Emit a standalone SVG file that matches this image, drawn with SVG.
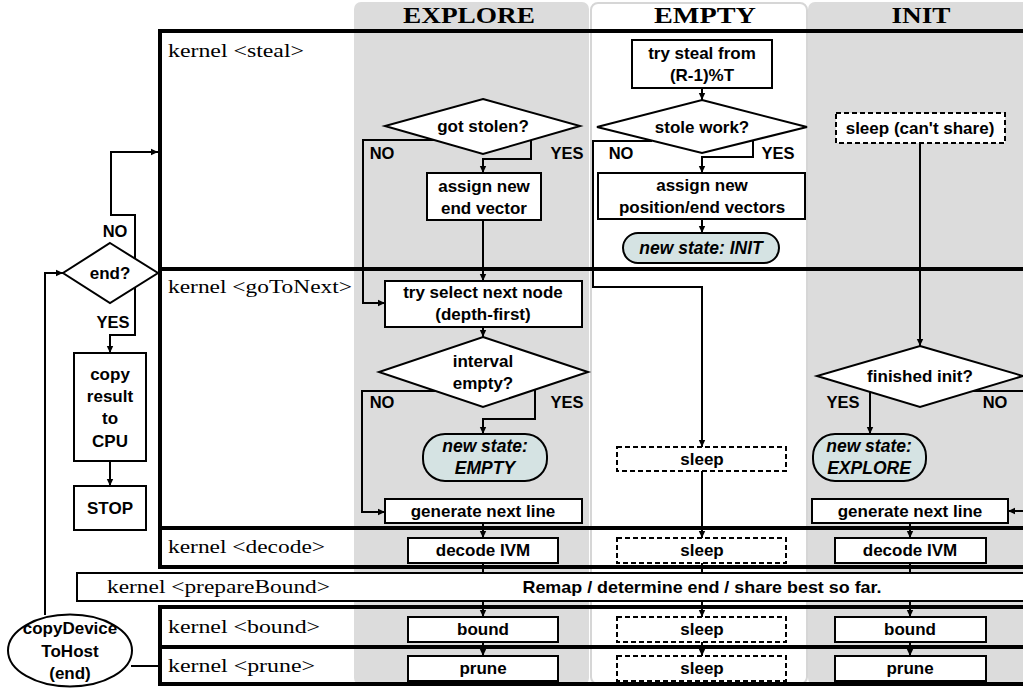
<svg xmlns="http://www.w3.org/2000/svg" width="1023" height="689" viewBox="0 0 1023 689">
<style>
.col{fill:#dcdcdc}
.colw{fill:#ffffff;stroke:#d6d6d6;stroke-width:2}
.hdr{font-family:"Liberation Serif",serif;font-weight:bold;font-size:24px;text-anchor:middle;fill:#000}
.kf{fill:none;stroke:#000;stroke-width:4}
.kl{font-family:"Liberation Serif",serif;font-size:18px;fill:#000}
.box{fill:#fff;stroke:#000;stroke-width:2}
.dash{fill:#fff;stroke:#000;stroke-width:2;stroke-dasharray:5,3}
.pill{fill:#d5e3e3;stroke:#000;stroke-width:2}
.t{font-family:"Liberation Sans",Arial,sans-serif;font-weight:bold;font-size:17px;text-anchor:middle;fill:#000}
.ti{font-family:"Liberation Sans",Arial,sans-serif;font-weight:bold;font-style:italic;font-size:17.5px;text-anchor:middle;fill:#000}
.lab{font-family:"Liberation Sans",Arial,sans-serif;font-weight:bold;font-size:16.5px;text-anchor:middle;fill:#000}
.c{fill:none;stroke:#000;stroke-width:2}
.ca{fill:none;stroke:#000;stroke-width:2;marker-end:url(#ah)}
</style>
<defs>
<marker id="ah" markerWidth="8" markerHeight="8" refX="7" refY="4" orient="auto" markerUnits="userSpaceOnUse">
<path d="M0,0.8 L7,4 L0,7.2 z" fill="#000"/>
</marker>
</defs>
<rect x="0" y="0" width="1023" height="689" fill="#fff"/>
<g id="columns">
<rect class="col" x="354" y="2" width="235" height="683" rx="7"/>
<rect class="colw" x="591" y="3" width="216" height="681" rx="7"/>
<rect class="col" x="808" y="2" width="240" height="683" rx="7"/>
<text class="hdr" x="469" y="23" textLength="132" lengthAdjust="spacingAndGlyphs">EXPLORE</text>
<text class="hdr" x="705" y="23" textLength="102" lengthAdjust="spacingAndGlyphs">EMPTY</text>
<text class="hdr" x="921" y="23" textLength="59" lengthAdjust="spacingAndGlyphs">INIT</text>
</g>
<g id="kernels">
<g id="k-steal"><rect class="kf" x="160" y="31" width="880" height="238"/><text class="kl" x="168" y="57" textLength="136" lengthAdjust="spacingAndGlyphs">kernel &lt;steal&gt;</text></g>
<g id="k-gotonext"><rect class="kf" x="160" y="269" width="880" height="259"/><text class="kl" x="168" y="293" textLength="184" lengthAdjust="spacingAndGlyphs">kernel &lt;goToNext&gt;</text></g>
<g id="k-decode"><rect class="kf" x="160" y="528" width="880" height="39"/><text class="kl" x="168" y="553" textLength="157" lengthAdjust="spacingAndGlyphs">kernel &lt;decode&gt;</text></g>
<g id="k-preparebound"><rect x="77" y="573" width="960" height="28" fill="#fff" stroke="#000" stroke-width="2"/><text class="kl" x="107" y="593" textLength="223" lengthAdjust="spacingAndGlyphs">kernel &lt;prepareBound&gt;</text><text class="t" x="702" y="593" textLength="359" lengthAdjust="spacingAndGlyphs">Remap / determine end / share best so far.</text></g>
<g id="k-bound"><rect class="kf" x="160" y="607" width="880" height="40"/><text class="kl" x="168" y="633" textLength="152" lengthAdjust="spacingAndGlyphs">kernel &lt;bound&gt;</text></g>
<g id="k-prune"><rect class="kf" x="160" y="647" width="880" height="37"/><text class="kl" x="168" y="672" textLength="147" lengthAdjust="spacingAndGlyphs">kernel &lt;prune&gt;</text></g>
</g>
<g id="connectors">
<path class="ca" d="M135,258.6 V215 H111 V152 H158"/>
<path class="ca" d="M135,287.4 V335 H110 V353"/>
<path class="ca" d="M110,461 V486"/>
<path class="ca" d="M45,615 V273 H63"/>
<path class="c" d="M131,666 H160"/>
<text class="lab" x="115" y="237">NO</text>
<text class="lab" x="113" y="328">YES</text>
<path class="ca" d="M434,140 H363 V303 H385"/>
<path class="ca" d="M531,140 V159 H483 V173"/>
<path class="ca" d="M483,220 V281"/>
<path class="ca" d="M483,327 V337"/>
<path class="ca" d="M435,391 H362 V512 H385"/>
<path class="ca" d="M535,390 V419 H483 V434"/>
<path class="ca" d="M483,523 V538"/>
<path class="c" d="M483,563 V573"/>
<path class="ca" d="M483,601 V617"/>
<path class="ca" d="M483,642 V656"/>
<text class="lab" x="382" y="159">NO</text>
<text class="lab" x="567" y="159">YES</text>
<text class="lab" x="382" y="408">NO</text>
<text class="lab" x="567" y="408">YES</text>
<path class="ca" d="M702,88 V100"/>
<path class="ca" d="M652,141 H593 V287 H702 V447"/>
<path class="ca" d="M753,140.6 V157 H702 V173"/>
<path class="ca" d="M702,219 V233"/>
<path class="ca" d="M702,471 V538"/>
<path class="c" d="M702,563 V573"/>
<path class="ca" d="M702,601 V617"/>
<path class="ca" d="M702,642 V656"/>
<text class="lab" x="621" y="159">NO</text>
<text class="lab" x="778" y="159">YES</text>
<path class="ca" d="M920,143 V346"/>
<path class="ca" d="M870,391.7 V434"/>
<path class="ca" d="M972,391 H1036 V511 H1008"/>
<path class="ca" d="M910,523 V538"/>
<path class="c" d="M910,563 V573"/>
<path class="ca" d="M910,601 V617"/>
<path class="ca" d="M910,642 V656"/>
<text class="lab" x="843" y="408">YES</text>
<text class="lab" x="995" y="408">NO</text>
</g>
<g id="n-end"><path class="box" d="M110,243 L158,273 L110,303 L63,273 Z"/><text class="t" x="110" y="279">end?</text></g>
<g id="n-copy"><rect class="box" x="74" y="353" width="72" height="108"/><text class="t" x="110" y="380">copy</text><text class="t" x="110" y="402">result</text><text class="t" x="110" y="424">to</text><text class="t" x="110" y="447">CPU</text></g>
<g id="n-stop"><rect class="box" x="74" y="486" width="72" height="44"/><text class="t" x="110" y="514">STOP</text></g>
<g id="n-copydev"><ellipse class="box" cx="70" cy="650.5" rx="62" ry="36"/><text class="t" x="70" y="634">copyDevice</text><text class="t" x="70" y="657">ToHost</text><text class="t" x="70" y="679">(end)</text></g>
<g id="n-gotstolen"><path class="box" d="M483,99 L580,126 L483,154 L385,126 Z"/><text class="t" x="483" y="132">got stolen?</text></g>
<g id="n-assign1"><rect class="box" x="427" y="173" width="114" height="47"/><text class="t" x="484" y="192">assign new</text><text class="t" x="484" y="214">end vector</text></g>
<g id="n-trysel"><rect class="box" x="385" y="281" width="197" height="46"/><text class="t" x="483" y="298">try select next node</text><text class="t" x="483" y="320">(depth-first)</text></g>
<g id="n-interval"><path class="box" d="M483,337 L588,372 L483,407 L379,372 Z"/><text class="t" x="483" y="367">interval</text><text class="t" x="483" y="389">empty?</text></g>
<g id="n-nsempty"><rect class="pill" x="423" y="434" width="124" height="47" rx="22"/><text class="ti" x="485" y="452">new state:</text><text class="ti" x="485" y="474">EMPTY</text></g>
<g id="n-gen1"><rect class="box" x="385" y="499" width="197" height="24"/><text class="t" x="483" y="517">generate next line</text></g>
<g id="n-dec1"><rect class="box" x="408" y="538" width="150" height="25"/><text class="t" x="483" y="556">decode IVM</text></g>
<g id="n-bnd1"><rect class="box" x="408" y="617" width="150" height="25"/><text class="t" x="483" y="635">bound</text></g>
<g id="n-prn1"><rect class="box" x="408" y="656" width="150" height="25"/><text class="t" x="483" y="674">prune</text></g>
<g id="n-trysteal"><rect class="box" x="632" y="40" width="140" height="48"/><text class="t" x="702" y="59">try steal from</text><text class="t" x="702" y="81">(R-1)%T</text></g>
<g id="n-stole"><path class="box" d="M702,100 L807,127 L702,153 L597,127 Z"/><text class="t" x="702" y="133">stole work?</text></g>
<g id="n-assign2"><rect class="box" x="598" y="173" width="207" height="46"/><text class="t" x="702" y="191">assign new</text><text class="t" x="702" y="213">position/end vectors</text></g>
<g id="n-nsinit"><rect class="pill" x="623" y="233" width="156" height="30" rx="15"/><text class="ti" x="701" y="254">new state: INIT</text></g>
<g id="n-sleep1"><rect class="dash" x="617" y="447" width="169" height="24"/><text class="t" x="702" y="465">sleep</text></g>
<g id="n-sleep2"><rect class="dash" x="617" y="538" width="169" height="25"/><text class="t" x="702" y="556">sleep</text></g>
<g id="n-sleep3"><rect class="dash" x="617" y="617" width="169" height="25"/><text class="t" x="702" y="635">sleep</text></g>
<g id="n-sleep4"><rect class="dash" x="617" y="656" width="169" height="25"/><text class="t" x="702" y="674">sleep</text></g>
<g id="n-sleepcs"><rect class="dash" x="836" y="113" width="169" height="30"/><text class="t" x="920" y="134">sleep (can't share)</text></g>
<g id="n-finished"><path class="box" d="M920,346 L1023,376 L920,407 L817,376 Z"/><text class="t" x="920" y="382">finished init?</text></g>
<g id="n-nsexplore"><rect class="pill" x="813" y="434" width="113" height="47" rx="22"/><text class="ti" x="869" y="452">new state:</text><text class="ti" x="869" y="474">EXPLORE</text></g>
<g id="n-gen2"><rect class="box" x="812" y="499" width="196" height="24"/><text class="t" x="910" y="517">generate next line</text></g>
<g id="n-dec2"><rect class="box" x="835" y="538" width="151" height="25"/><text class="t" x="910" y="556">decode IVM</text></g>
<g id="n-bnd2"><rect class="box" x="835" y="617" width="151" height="25"/><text class="t" x="910" y="635">bound</text></g>
<g id="n-prn2"><rect class="box" x="835" y="656" width="151" height="25"/><text class="t" x="910" y="674">prune</text></g>
</svg>
